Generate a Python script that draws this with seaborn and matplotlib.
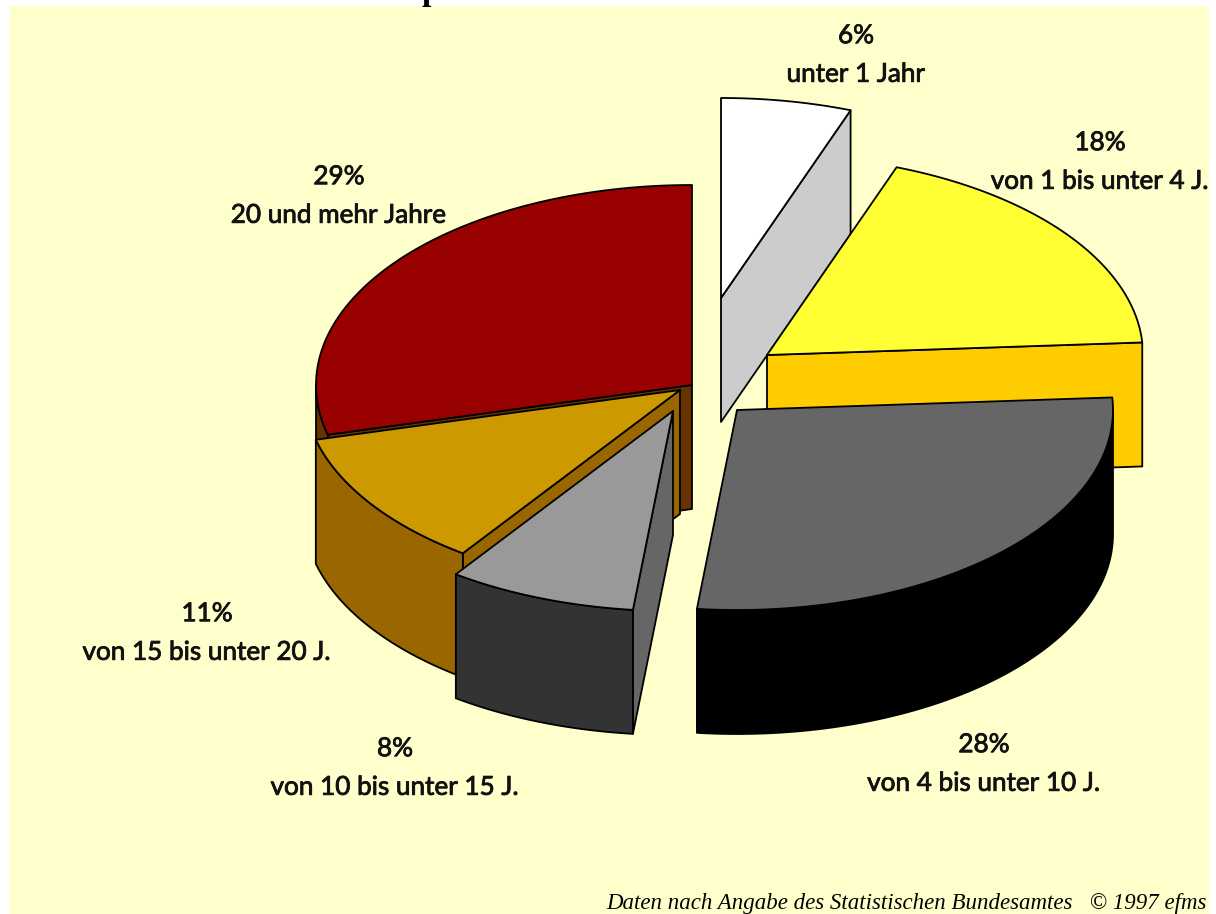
import numpy as np
import matplotlib
matplotlib.use('Agg')
import matplotlib.pyplot as plt
from matplotlib.patches import Polygon, Rectangle
import matplotlib.patheffects as pe
import seaborn as sns

# shares, printed labels are rounded
slices = ['unter 1', '1-4', '4-10', '10-15', '15-20', '20+']
shares = [5.6, 18.4, 27.7, 8.1, 11.2, 29.0]
percent_labels = ['6%', '18%', '28%', '8%', '11%', '29%']
class_labels = ['unter 1 Jahr', 'von 1 bis unter 4 J.', 'von 4 bis unter 10 J.',
                'von 10 bis unter 15 J.', 'von 15 bis unter 20 J.', '20 und mehr Jahre']

top_colors = sns.color_palette(['#FFFFFF', '#FFFF33', '#666666', '#999999', '#CC9900', '#990000'])
rim_colors = sns.color_palette(['#CCCCCC', '#FFCC00', '#000000', '#333333', '#996600', '#663300'])
cut_colors = sns.color_palette(['#CCCCCC', '#FFCC00', '#000000', '#666666', '#996600', '#663300'])

# where each exploded slice has its tip on the page
tips = [(721, 298), (767, 355), (737, 410), (673, 411), (680, 390), (692, 385)]
label_pos = [(856, 55), (1100, 162), (984, 764), (395, 768), (207, 633), (339, 196)]
draw_order = [0, 1, 2, 5, 4, 3]

rx, ry, depth = 376, 200, 124

sns.set_theme(style='white')
plt.rcParams['font.family'] = ['Lato', 'Liberation Sans', 'DejaVu Sans']

fig = plt.figure(figsize=(12.16, 9.14), dpi=100, facecolor='white')
ax = fig.add_axes([0, 0, 1, 1])
ax.set_xlim(0, 1216)
ax.set_ylim(914, 0)
ax.axis('off')
ax.add_patch(Rectangle((10, 6), 1199, 908, facecolor='#FFFFCC', edgecolor='none', zorder=0))


def arc(tip, t1, t2, down=0):
    t = np.radians(np.linspace(t1, t2, 80))
    return np.column_stack([tip[0] + rx * np.cos(t), tip[1] - ry * np.sin(t) + down])


def face(points, color, z):
    ax.add_patch(Polygon(points, closed=True, facecolor=color, edgecolor='black',
                         linewidth=1.3, joinstyle='round', zorder=z))


# angles run clockwise from twelve o'clock
ends = 90 - 3.6 * np.cumsum([0] + shares)
z = 1
for i in draw_order:
    tip = tips[i]
    hi, lo = ends[i], ends[i + 1]
    # cut faces, only those turned to the viewer
    for t, normal in ((lo, lo - 90), (hi, hi + 90)):
        if np.sin(np.radians(normal)) < -1e-6:
            edge = arc(tip, t, t, 0)[0]
            pts = [tip, edge, (edge[0], edge[1] + depth), (tip[0], tip[1] + depth)]
            face(pts, cut_colors[i], z)
            z += 1
    # outer rim, front half of the ellipse only
    for shift in (0, 360, 720):
        r1, r2 = max(lo + shift, 180), min(hi + shift, 360)
        if r2 > r1:
            face(np.vstack([arc(tip, r1, r2), arc(tip, r2, r1, depth)]), rim_colors[i], z)
            z += 1
    # top surface
    face(np.vstack([[tip], arc(tip, hi, lo)]), top_colors[i], z)
    z += 1

for pct, cls, (x, y) in zip(percent_labels, class_labels, label_pos):
    t = ax.text(x, y, pct + '\n' + cls, ha='center', va='center', fontsize=18.8,
                linespacing=1.68, color='#111111', zorder=100)
    t.set_path_effects([pe.withStroke(linewidth=0.6, foreground='#111111')])

# the title is cut off by the upper image edge, only a descender is left
ax.text(431, 0, 'p', ha='center', va='baseline', fontsize=24, fontweight='bold',
        family=['Liberation Serif', 'DejaVu Serif'], color='black', zorder=100)
ax.text(1207, 909, 'Daten nach Angabe des Statistischen Bundesamtes   \u00a9 1997 efms',
        ha='right', va='baseline', fontsize=16.5, style='italic',
        family=['Liberation Serif', 'DejaVu Serif'], color='black', zorder=100)

fig.savefig('out.png', dpi=100, facecolor=fig.get_facecolor())
